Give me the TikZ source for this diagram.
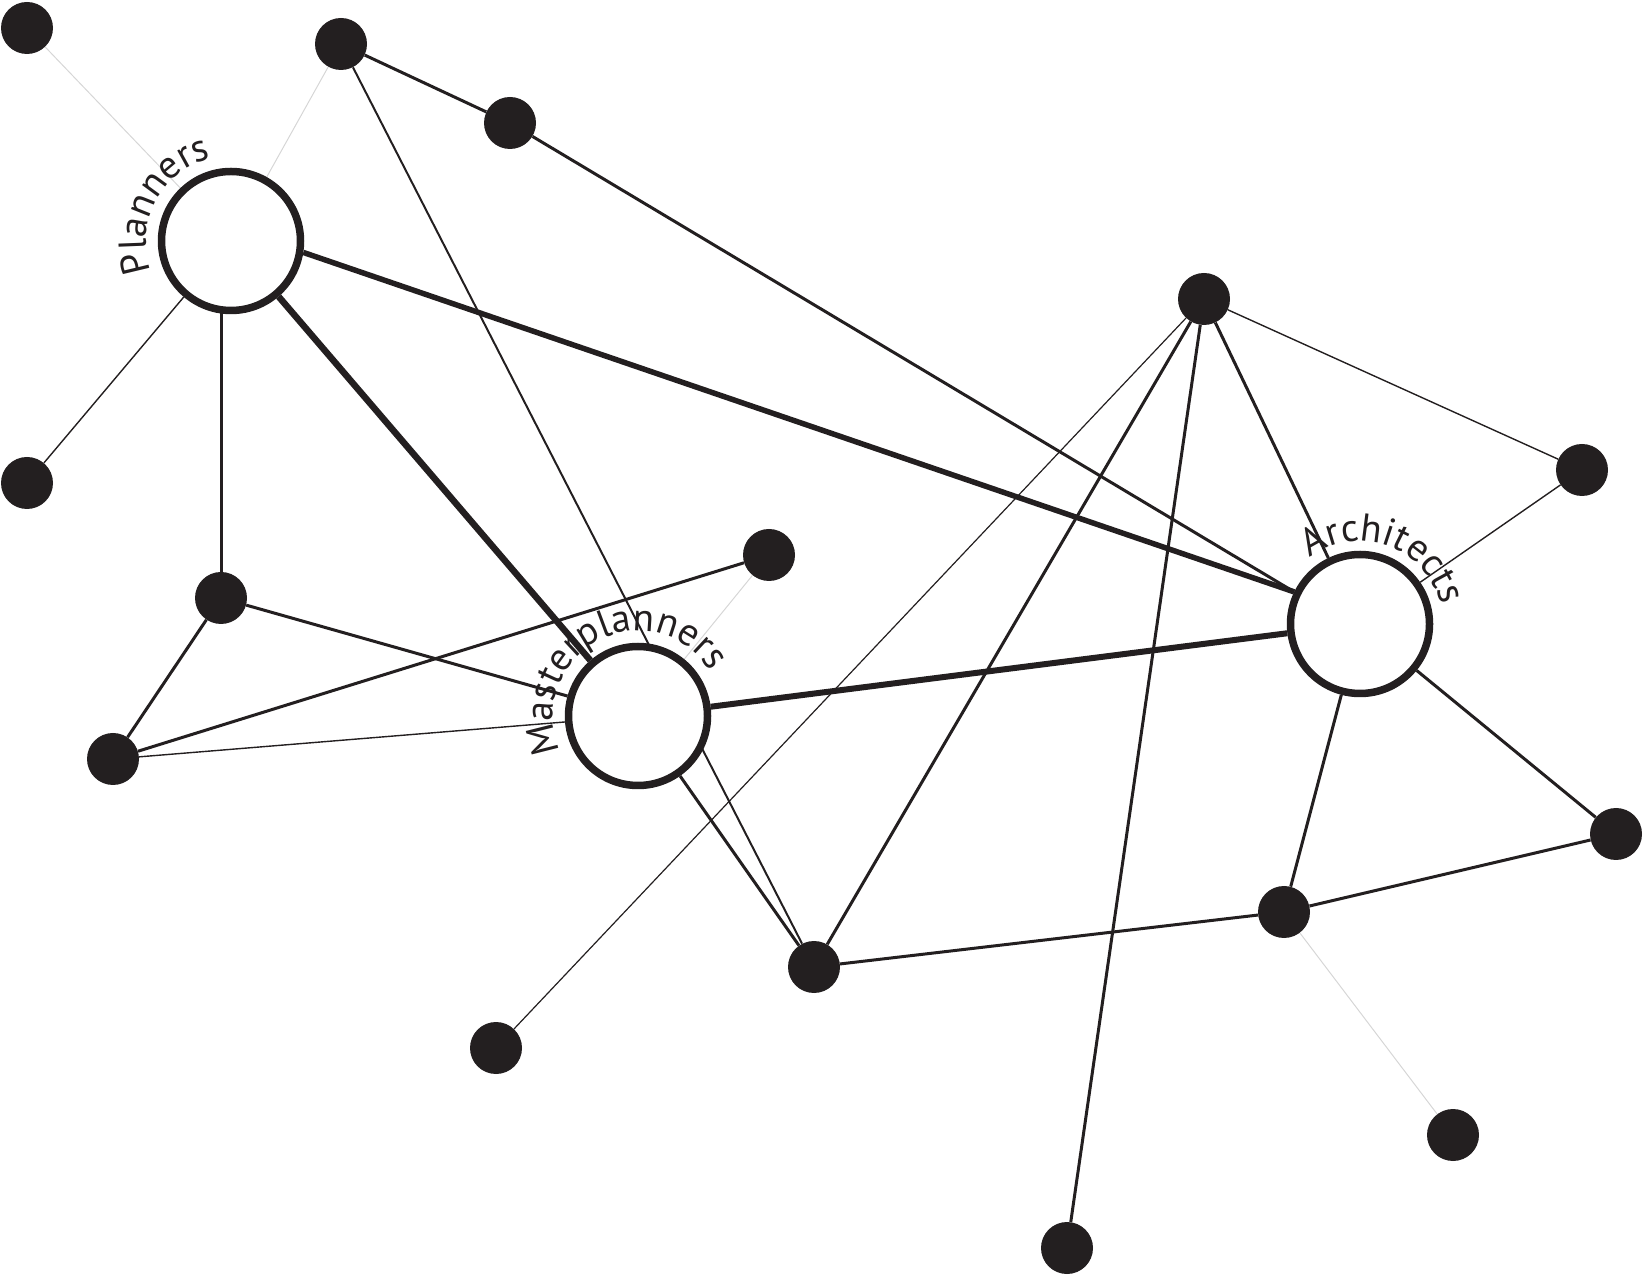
\documentclass[tikz,border=0pt]{standalone}
\usepackage{fontspec}
\setmainfont{PT Sans}
\usetikzlibrary{backgrounds}
\usetikzlibrary{decorations.text}

\definecolor{ink}{HTML}{231F20}
\definecolor{pale}{HTML}{D6D6D6}

\begin{document}
\begin{tikzpicture}[x=1pt,y=1pt,
    dot/.style={circle,fill=ink,inner sep=0pt,minimum size=52pt},
    hub/.style={circle,draw=ink,fill=white,line width=7.5pt,inner sep=0pt,minimum size=139pt},
    faint/.style={draw=pale,line width=1pt},
    weak/.style={draw=ink,line width=1.4pt},
    mid/.style={draw=ink,line width=3pt},
    strong/.style={draw=ink,line width=6pt},
    arclabel/.style={decorate,decoration={text along path,text align=center,
        text color=ink,text={|\fontsize{39}{42}\selectfont|#1}}}]
    \useasboundingbox (0,0) rectangle (1643,1275);

    % hubs
    \node (P) [hub] at (231,1034) {};
    \node (M) [hub] at (638,559) {};
    \node (A) [hub] at (1360,651) {};

    % dots
    \node (d1) [dot] at (27,1247) {};
    \node (d2) [dot] at (341,1231) {};
    \node (d3) [dot] at (510,1152) {};
    \node (d4) [dot] at (1204,976) {};
    \node (d5) [dot] at (1582,805) {};
    \node (d6) [dot] at (27,792) {};
    \node (d7) [dot] at (221,677) {};
    \node (d8) [dot] at (769,720) {};
    \node (d9) [dot] at (113,516) {};
    \node (d10) [dot] at (1616,441) {};
    \node (d11) [dot] at (1284,363) {};
    \node (d12) [dot] at (814,308) {};
    \node (d13) [dot] at (496,227) {};
    \node (d14) [dot] at (1453,140) {};
    \node (d15) [dot] at (1067,27) {};

    \begin{scope}[on background layer]
      \draw [faint] (d1) -- (P);
      \draw [faint] (d2) -- (P);
      \draw [faint] (d8) -- (M);
      \draw [faint] (d11) -- (d14);

      \draw [weak, line width=2pt] (d2) -- (d12);
      \draw [weak] (d6) -- (P);
      \draw [weak] (d9) -- (M);
      \draw [weak, line width=1.2pt] (d13) -- (d4);
      \draw [weak] (d4) -- (d5);
      \draw [weak] (d5) -- (A);

      \draw [mid] (d2) -- (d3);
      \draw [mid] (d3) -- (A.154);
      \draw [mid] (d7) -- (d7 |- P);
      \draw [mid] (d7) -- (M);
      \draw [mid] (d7) -- (d9);
      \draw [mid] (d9) -- (d8);
      \draw [mid] (M) -- (d12);
      \draw [mid] (d12) -- (d4);
      \draw [mid] (d15) -- (d4);
      \draw [mid] (d4) -- (A);
      \draw [mid] (A) -- (d10);
      \draw [mid] (A) -- (d11);
      \draw [mid] (d11) -- (d10);
      \draw [mid] (d12) -- (d11);

      \draw [strong, line width=5.5pt] (P.-9) -- (A.154);
      \draw [strong, line width=6.5pt] (P) -- (M);
      \draw [strong] (M) -- (A);
    \end{scope}

    % labels round the hubs
    \path [arclabel=Planners] (P) ++(252:85) arc [start angle=252, end angle=52, radius=85];
    \path [arclabel=Masterplanners] (M) ++(218:85) arc [start angle=218, end angle=18, radius=85];
    \path [arclabel=Architects] (A) ++(170:83) arc [start angle=170, end angle=-30, radius=83];
\end{tikzpicture}
\end{document}
